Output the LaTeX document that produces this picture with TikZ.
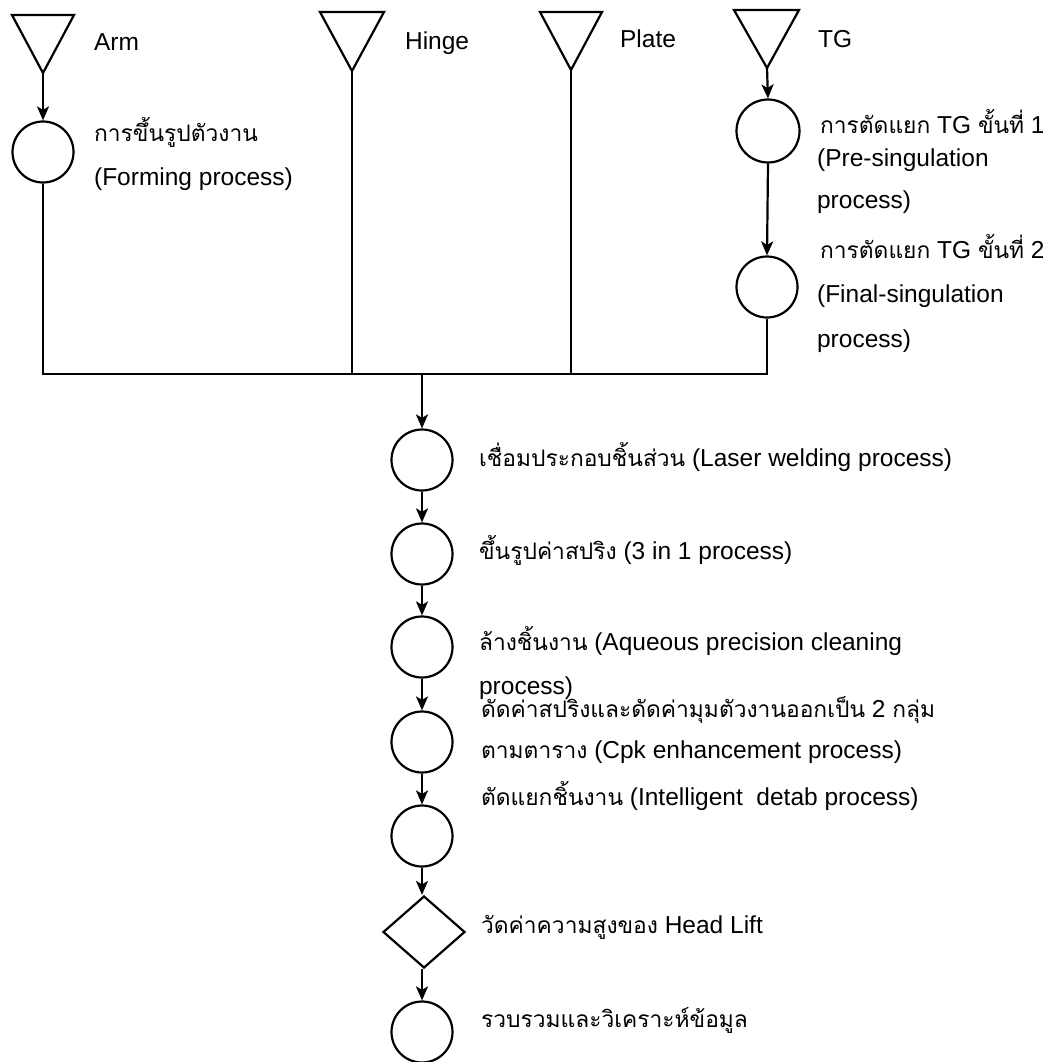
\documentclass[tikz,border=0pt]{standalone}
\usepackage{fontspec}
\setmainfont{Liberation Sans}
\newfontfamily\thaif[Script=Thai,Scale=0.93]{Loma}
\usetikzlibrary{arrows.meta,shapes.geometric}
\begin{document}
\begin{tikzpicture}[x=1pt,y=-1pt,
  line width=2.2pt,
  proc/.style={circle,draw,minimum size=61pt,inner sep=0pt},
  insp/.style={diamond,draw,minimum width=82pt,minimum height=72pt,inner sep=0pt},
  arr/.style={-{Stealth[length=14pt,width=12pt,inset=3.5pt]}},
  txt/.style={anchor=base west,inner sep=0pt,font=\fontsize{24.5}{28}\selectfont},
  tri/.style={line join=miter}]
\useasboundingbox (0,0) rectangle (1043,1062);
% storage triangles
\coordinate (armT) at (43,73);
\coordinate (hingeT) at (352,71);
\coordinate (plateT) at (571,70);
\coordinate (tgT) at (767,68);
\draw[tri] (12,15) -- (74,15) -- (armT) -- cycle;
\draw[tri] (320,12) -- (384,12) -- (hingeT) -- cycle;
\draw[tri] (540,12) -- (602,12) -- (plateT) -- cycle;
\draw[tri] (734,10) -- (799,10) -- (tgT) -- cycle;
\node[txt] (armL) at (93,51) {Arm};
\node[txt] (hingeL) at (404,50) {Hinge};
\node[txt] (plateL) at (619,48) {Plate};
\node[txt] (tgL) at (817,48) {TG};
% Arm branch
\node[proc] (armC) at (43,152) {};
\node[txt] (armTx1) at (93,142) {\thaif การขึ้นรูปตัวงาน};
\node[txt] (armTx2) at (93,185) {(Forming process)};
\draw[arr] (armT) -- (armC.north);
% TG branch
\node[proc,minimum size=63pt] (tg1C) at (768,131) {};
\node[proc] (tg2C) at (767,287) {};
\draw[arr] (tgT) -- (tg1C.north);
\draw[arr] (tg1C.south) -- (tg2C.north);
\node[txt] (tg1a) at (819,133) {{\thaif การตัดแยก} TG {\thaif ขั้นที่} 1};
\node[txt] (tg1b) at (816,166) {(Pre-singulation};
\node[txt] (tg1c) at (816,208) {process)};
\node[txt] (tg2a) at (819,258) {{\thaif การตัดแยก} TG {\thaif ขั้นที่} 2};
\node[txt] (tg2b) at (816,302) {(Final-singulation};
\node[txt] (tg2c) at (816,347) {process)};
% bus
\coordinate (busL) at (43,374);
\coordinate (busR) at (767,374);
\coordinate (busM) at (422,374);
\draw (armC.south) -- (busL) -- (busR) -- (tg2C.south);
\draw (hingeT) -- (hingeT |- busL);
\draw (plateT) -- (plateT |- busL);
% main column
\node[proc] (c1) at (422,460) {};
\node[proc] (c2) at (422,554) {};
\node[proc] (c3) at (422,647) {};
\node[proc] (c4) at (422,742) {};
\node[proc] (c5) at (422,836) {};
\node[insp] (d6) at (424,932) {};
\node[proc] (c7) at (422,1032) {};
\draw[arr] (busM) -- (c1.north);
\draw[arr] (c1.south) -- (c2.north);
\draw[arr] (c2.south) -- (c3.north);
\draw[arr] (c3.south) -- (c4.north);
\draw[arr] (c4.south) -- (c5.north);
\draw[arr] (c5.south) -- (c5.south |- d6.north);
\draw[arr] (c5.south |- d6.south) -- (c7.north);
\node[txt] (t1) at (478,466) {{\thaif เชื่อมประกอบชิ้นส่วน} (Laser welding process)};
\node[txt] (t2) at (478,559) {{\thaif ขึ้นรูปค่าสปริง} (3 in 1 process)};
\node[txt] (t3a) at (478,650) {{\thaif ล้างชิ้นงาน} (Aqueous precision cleaning};
\node[txt] (t3b) at (478,694) {process)};
\node[txt] (t4a) at (480,717) {{\thaif ดัดค่าสปริงและดัดค่ามุมตัวงานออกเป็น} 2 {\thaif กลุ่ม}};
\node[txt] (t4b) at (480,758) {{\thaif ตามตาราง} (Cpk enhancement process)};
\node[txt] (t5) at (480,805) {{\thaif ตัดแยกชิ้นงาน} (Intelligent\ \ detab process)};
\node[txt] (t6) at (480,933) {{\thaif วัดค่าความสูงของ} Head Lift};
\node[txt] (t7) at (480,1027) {\thaif รวบรวมและวิเคราะห์ข้อมูล};
\end{tikzpicture}
\end{document}
